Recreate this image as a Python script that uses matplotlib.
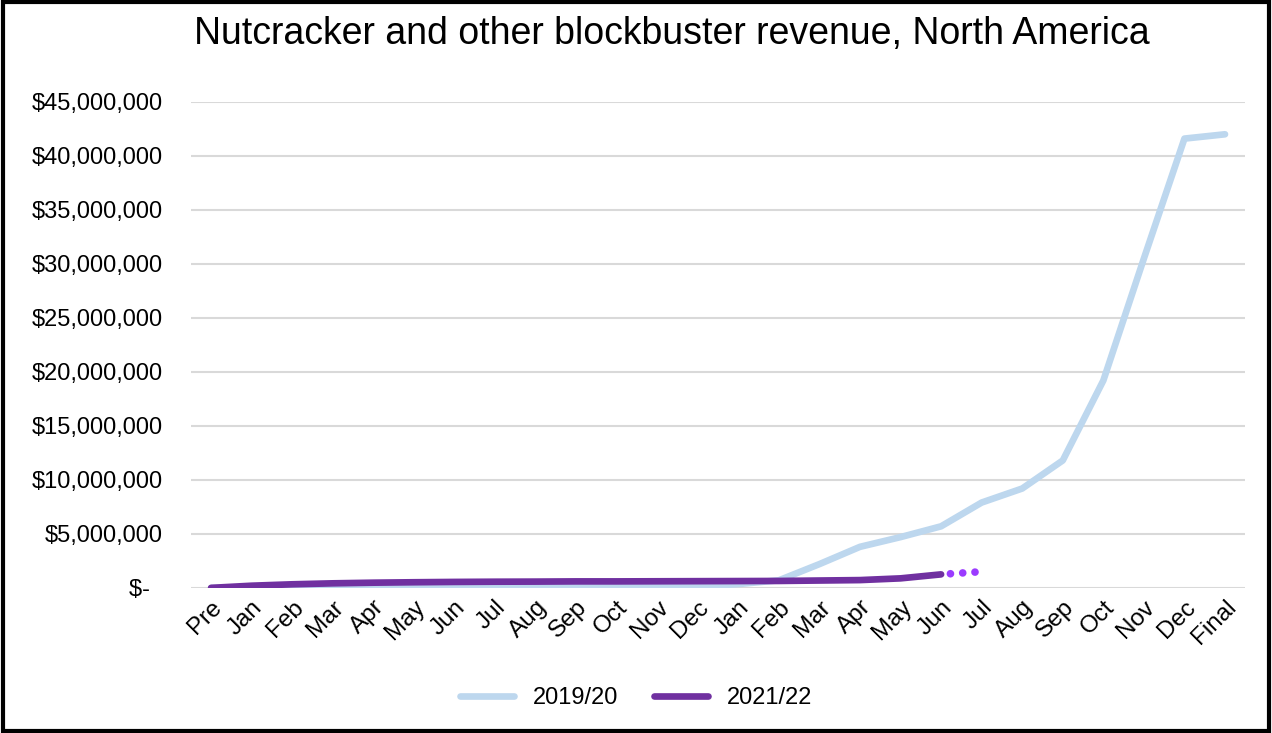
import matplotlib.pyplot as plt
import matplotlib.transforms as mtransforms
from matplotlib.patches import Rectangle
from matplotlib.ticker import FuncFormatter

plt.rcParams['font.family'] = ['Liberation Sans', 'DejaVu Sans']

months = ["Pre", "Jan", "Feb", "Mar", "Apr", "May", "Jun", "Jul", "Aug", "Sep",
          "Oct", "Nov", "Dec", "Jan", "Feb", "Mar", "Apr", "May", "Jun", "Jul",
          "Aug", "Sep", "Oct", "Nov", "Dec", "Final"]

# revenue in millions of dollars
rev_2019 = [0.0, 0.02, 0.03, 0.04, 0.04, 0.05, 0.05, 0.05, 0.05, 0.05, 0.06, 0.07,
            0.1, 0.35, 0.7, 2.2, 3.8, 4.7, 5.7, 7.9, 9.2, 11.8, 19.2, 30.5, 41.6, 42.0]
rev_2021 = [0.0, 0.2, 0.33, 0.42, 0.48, 0.52, 0.55, 0.57, 0.58, 0.6, 0.6, 0.61,
            0.62, 0.63, 0.64, 0.68, 0.72, 0.88, 1.25]
proj_2021 = [1.25, 1.5]   # Jun -> Jul, dotted

blue = "#BDD7EE"
purple = "#7030A0"
dot_purple = "#9B3BFF"

fig = plt.figure(figsize=(12.72, 7.33), dpi=100)
ax = fig.add_axes([0.150, 0.198, 0.829, 0.663])

x = list(range(len(months)))
ax.plot(x, [v * 1e6 for v in rev_2019], color=blue, lw=4.8,
        solid_capstyle="round", solid_joinstyle="round", label="2019/20", zorder=3)
ax.plot(x[:len(rev_2021)], [v * 1e6 for v in rev_2021], color=purple, lw=4.8,
        solid_capstyle="round", solid_joinstyle="round", label="2021/22", zorder=4)
n = len(rev_2021) - 1
ax.plot(x[n:n + 2], [v * 1e6 for v in proj_2021], color=dot_purple, lw=5.5,
        linestyle=(2.0, (0.01, 1.6)), dash_capstyle="round", zorder=4)

ax.set_xlim(-0.5, len(months) - 0.5)
ax.set_ylim(0, 45e6)
ax.set_yticks([i * 5e6 for i in range(10)])


def money(v, pos):
    if v == 0:
        return "$-  "
    return "${:,.0f}".format(v)


ax.yaxis.set_major_formatter(FuncFormatter(money))
ax.set_xticks(x)
ax.set_xticklabels(months, rotation=45, ha="right", va="top", rotation_mode="anchor")
offset = mtransforms.ScaledTranslation(-6 / 72, -4 / 72, fig.dpi_scale_trans)
for lab in ax.get_xticklabels():
    lab.set_transform(lab.get_transform() + offset)

ax.tick_params(axis="both", length=0, labelsize=17)
ax.tick_params(axis="x", labelsize=17.5)
ax.tick_params(axis="y", pad=20)
ax.tick_params(axis="x", pad=6)
ax.grid(axis="y", color="#D9D9D9", lw=1.5)
ax.set_axisbelow(True)
for s in ax.spines.values():
    s.set_visible(False)

fig.text(0.528, 0.953, "Nutcracker and other blockbuster revenue, North America",
         ha="center", va="center", fontsize=27)

ax.legend(loc="center", bbox_to_anchor=(0.5, 0.048), bbox_transform=fig.transFigure,
          ncol=2, frameon=False, fontsize=17, handlelength=2.3, columnspacing=1.5)

fig.patches.append(Rectangle((0.002, 0.003), 0.996, 0.994, transform=fig.transFigure,
                             fill=False, edgecolor="black", lw=3))

fig.savefig("out.png", dpi=100)
